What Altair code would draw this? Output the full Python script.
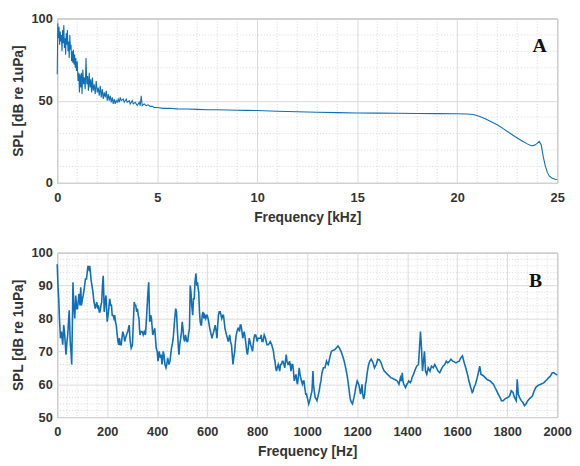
import altair as alt
import pandas as pd

# ---------------- Panel A data (kHz, dB) ----------------
a_freq = [0.00, 0.03, 0.06, 0.09, 0.12, 0.15, 0.18, 0.21, 0.24, 0.27, 0.30, 0.33, 0.36, 0.39, 0.42, 0.45,
          0.48, 0.51, 0.54, 0.57, 0.60, 0.63, 0.66, 0.69, 0.72, 0.75, 0.78, 0.81, 0.84, 0.87, 0.90, 0.93,
          0.96, 1.00, 1.04, 1.08, 1.11, 1.14, 1.18, 1.21, 1.24, 1.28, 1.32, 1.36, 1.40, 1.44, 1.48, 1.52,
          1.56, 1.60, 1.64, 1.68, 1.72, 1.76, 1.80, 1.85, 1.90, 1.95, 2.00, 2.05, 2.10, 2.15, 2.20, 2.25,
          2.30, 2.35, 2.40, 2.45, 2.50, 2.55, 2.60, 2.65, 2.70, 2.75, 2.80, 2.85, 2.90, 2.95, 3.00, 3.05,
          3.10, 3.15, 3.20, 3.30, 3.35, 3.45, 3.50, 3.60, 3.65, 3.75, 3.80, 3.90, 4.00, 4.10, 4.15, 4.20,
          4.25, 4.35, 4.45, 4.55, 4.65, 4.75, 4.85, 5.00, 5.3, 5.6, 6.0, 6.5, 7.0, 7.5, 8.0, 8.5, 9.0,
          9.5, 10.0, 11.0, 12.0, 13.0, 14.0, 15.0, 16.0, 17.0, 18.0, 19.0, 20.0, 20.5, 20.8, 21.1, 21.4,
          21.7, 22.0, 22.3, 22.6, 22.9, 23.2, 23.5, 23.7, 23.85, 24.0, 24.1, 24.2, 24.3, 24.4, 24.5, 24.6,
          24.75, 24.9, 25.0]
a_spl = [66, 97, 88, 95, 84, 92, 86, 90, 80, 93, 85, 96, 82, 88, 78, 91,
         84, 93, 80, 86, 76, 90, 81, 84, 74, 80, 73, 81, 72, 78, 70, 76,
         68, 74, 62, 67, 55, 66, 58, 67, 54, 69, 60, 64, 57, 76, 60, 65,
         56, 67, 58, 63, 55, 64, 56, 60, 54, 62, 55, 58, 53, 59, 52, 57,
         51, 55, 52, 56, 50, 54, 50, 53, 49, 52, 48, 51, 48, 50, 49, 51,
         49, 52, 50, 51, 49, 51, 49, 50, 48, 50, 48, 49, 47, 49, 47, 53,
         47, 48, 47, 47.5, 46.5, 46.5, 45.8, 45.8, 45.3, 45.4, 45.0, 44.9, 44.7, 44.5, 44.5, 44.3, 44.2,
         44.1, 44.0, 43.6, 43.2, 42.9, 42.7, 42.5, 42.4, 42.3, 42.2, 42.1, 42.0, 41.9, 41.6, 40.5, 39.0,
         37.2, 35.3, 33.0, 30.5, 28.0, 25.8, 23.7, 22.6, 22.8, 24.0, 25.2, 23.0, 16.0, 10.5, 6.5, 4.2,
         2.8, 2.2, 2.0]

# ---------------- Panel B data (Hz, dB) ----------------
b_freq = [0, 3, 6, 9, 13, 17, 22, 26, 30, 35, 39, 42, 46, 48, 52, 55, 58, 61, 63, 66, 70, 74, 78, 81,
          85, 87, 91, 94, 97, 101, 104, 108, 113, 117, 120, 123, 127, 130, 133, 135, 139, 143, 147, 150,
          152, 155, 158, 162, 165, 168, 171, 175, 178, 181, 184, 186, 188, 191, 195, 198, 200, 205, 210,
          214, 217, 220, 223, 227, 230, 233, 236, 240, 243, 246, 249, 252, 256, 259, 262, 266, 270, 273,
          277, 282, 285, 288, 290, 292, 296, 301, 304, 308, 311, 314, 318, 321, 324, 327, 329, 331, 335,
          340, 344, 348, 353, 357, 360, 363, 366, 368, 370, 374, 377, 380, 382, 386, 390, 393, 396, 400,
          403, 406, 408, 412, 416, 419, 421, 424, 427, 431, 435, 438, 442, 447, 451, 454, 457, 460, 464,
          467, 470, 474, 477, 479, 481, 484, 487, 490, 494, 497, 500, 503, 506, 510, 513, 516, 519, 522,
          525, 529, 532, 535, 538, 542, 545, 548, 551, 555, 558, 561, 564, 566, 569, 572, 575, 577, 580,
          583, 587, 590, 594, 597, 600, 603, 606, 610, 613, 616, 619, 622, 626, 629, 632, 636, 639, 642,
          645, 648, 652, 655, 658, 662, 665, 668, 671, 674, 677, 681, 684, 687, 690, 693, 697, 700, 703,
          706, 710, 713, 716, 719, 723, 726, 729, 732, 735, 739, 742, 745, 748, 752, 755, 758, 761, 764,
          768, 771, 774, 778, 781, 784, 787, 790, 794, 797, 800, 803, 806, 810, 813, 816, 819, 823, 828,
          833, 839, 845, 852, 858, 865, 868, 871, 874, 877, 880, 884, 887, 890, 893, 897, 900, 903, 907,
          910, 913, 916, 919, 923, 926, 929, 932, 935, 939, 942, 945, 948, 951, 955, 958, 961, 964, 968,
          971, 974, 977, 981, 984, 987, 990, 994, 997, 1000, 1003, 1006, 1010, 1013, 1016, 1019, 1021,
          1023, 1025, 1028, 1030, 1032, 1036, 1039, 1042, 1045, 1048, 1052, 1055, 1058, 1061, 1065, 1068,
          1071, 1074, 1077, 1080, 1084, 1087, 1090, 1093, 1097, 1103, 1110, 1116, 1123, 1129, 1135, 1142,
          1148, 1155, 1161, 1168, 1171, 1174, 1178, 1181, 1184, 1187, 1191, 1194, 1197, 1200, 1203, 1206,
          1210, 1213, 1216, 1219, 1222, 1226, 1230, 1233, 1236, 1239, 1243, 1246, 1250, 1256, 1263, 1269,
          1276, 1282, 1289, 1295, 1302, 1308, 1315, 1321, 1328, 1334, 1341, 1347, 1354, 1360, 1367, 1373,
          1377, 1380, 1383, 1386, 1390, 1393, 1396, 1399, 1403, 1406, 1412, 1416, 1419, 1425, 1432, 1438,
          1445, 1449, 1453, 1457, 1461, 1465, 1469, 1473, 1478, 1484, 1491, 1497, 1504, 1510, 1517, 1523,
          1530, 1536, 1543, 1550, 1556, 1562, 1569, 1575, 1582, 1588, 1595, 1601, 1608, 1614, 1621, 1628,
          1634, 1641, 1647, 1654, 1660, 1663, 1667, 1673, 1680, 1686, 1690, 1695, 1700, 1706, 1712, 1719,
          1725, 1732, 1738, 1745, 1751, 1758, 1764, 1771, 1777, 1784, 1790, 1797, 1803, 1810, 1816, 1823,
          1829, 1836, 1840, 1844, 1849, 1856, 1862, 1869, 1875, 1882, 1888, 1895, 1901, 1908, 1914, 1921,
          1927, 1934, 1940, 1947, 1953, 1960, 1966, 1973, 1980, 1986, 1991, 1996, 2000]
b_spl = [96.5, 90, 86, 80, 74, 76, 72, 78, 75, 69, 73, 75, 80, 82.5, 73, 70, 66, 80, 91, 84, 80, 87, 83, 83,
         86, 87.5, 84, 89.5, 84, 86, 87, 89, 92, 92, 94, 96, 95, 96, 94, 92, 90, 88, 85, 84,
         83, 84, 85, 83, 84, 82, 82, 84, 85, 90, 93, 88, 82, 85, 87, 82, 79, 82, 86,
         84, 84, 81, 81, 80, 81, 79, 78, 75, 73, 72, 74, 72, 72, 74, 76, 75, 73, 74,
         75, 76, 77, 78, 75, 73, 71, 72, 78, 85, 84, 84, 82, 83, 81, 80, 77, 75, 76,
         76, 75, 76, 75, 80, 84, 88, 91, 85, 79, 81, 80, 77, 75, 76, 77, 74, 71, 70,
         67, 69, 70, 68, 69, 66, 67, 70, 69, 66, 65, 66, 68, 66, 67, 69, 71, 72, 74,
         77, 80, 83, 82, 79, 76, 72, 69, 72, 74, 76, 79, 77, 74, 73, 75, 74, 73, 73,
         75, 77, 90, 88, 84, 81, 86, 86, 91, 93.7, 90, 91, 89, 88, 82, 79, 78, 78, 81,
         82, 80, 81, 80, 81, 81, 80, 79, 77, 76, 75, 74, 75, 76, 77, 78, 76, 74, 78,
         81, 82, 82, 81, 80, 81, 81, 79, 77, 76, 75, 74, 73, 74, 75, 73, 72, 69, 66,
         68, 70, 73, 75, 76, 77, 77, 76, 78, 78, 76, 74, 75, 76, 74, 72, 70, 69, 71,
         74, 73, 72, 71, 70, 72, 74, 75, 75, 74, 73, 74, 74, 74, 74, 75, 73, 73, 75,
         74, 72, 72, 73, 72, 70, 68, 67, 65, 64, 65, 66, 65, 64, 66, 66, 67, 67, 66,
         65, 67, 69, 67, 66, 66, 67, 66, 64, 66, 66, 64, 61, 62, 63, 61, 60, 62, 65,
         63, 62, 61, 60, 61, 61, 59, 57, 57, 56, 55, 54, 55, 56, 57, 58, 61,
         64, 60, 58, 57, 56, 55.5, 55, 56, 57, 58, 60, 61, 63, 64, 65, 65,
         65, 66, 67, 66.5, 66, 67, 68, 69, 70, 70.3, 70.5, 71, 71.6, 71, 70, 68.5,
         67, 64.5, 62, 58, 56, 55, 54.3, 54, 55, 56, 57.5, 59, 60, 61, 60.5, 60,
         58.5, 57, 58, 60, 57, 55.5, 57, 60, 61, 63, 65, 66, 67, 67.6, 66.6, 65,
         66, 67.6, 67.4, 66.6, 65, 64, 63.5, 63, 62.5, 62, 61.8, 61.5, 61.3, 61, 60, 62,
         61, 63.5, 61, 60, 59.5, 59, 59.5, 60, 60.5, 61, 60.5, 61, 62, 63, 64.5, 65.5,
         66, 71, 76, 71, 64, 67, 70, 64, 63, 65, 64, 65.5, 65, 66, 65, 64,
         63.5, 64.5, 65.5, 66, 67, 66.5, 67, 67.6, 67, 66.8, 66.5, 66.8, 67, 68, 68.6, 66.5,
         65, 63, 61, 59, 57.5, 57.8, 59, 60, 62, 64, 65.5, 63, 62.8, 62.5, 62, 61.5,
         61.2, 61, 60.5, 60, 59, 58, 57, 56, 55, 55, 55.5, 55.8, 56, 56.5, 58, 57.5,
         56, 55, 61.5, 57, 56, 55, 54.5, 53.5, 54, 55, 55.5, 56, 56.5, 58, 59, 59.5,
         59.8, 60, 60.2, 60.5, 61, 61.5, 62, 62.5, 63.5, 63.5, 63.2, 63, 62.8]

# ---------------- Axis ticks and grid values ----------------
a_xticks = [0, 5, 10, 15, 20, 25]
a_yticks = [0, 50, 100]
a_xminor = [v for v in range(0, 26) if v % 5 != 0]
a_yminor = [10, 20, 30, 40, 60, 70, 80, 90]

b_xticks = list(range(0, 2001, 200))
b_yticks = [50, 60, 70, 80, 90, 100]
b_xminor = [v for v in range(0, 2001, 40) if v % 200 != 0]
b_yminor = [v for v in range(50, 101, 2) if v % 10 != 0]

LINE = "#0f6fb8"
W, H = 508, 167


def panel(freq, spl, xdom, ydom, xticks, yticks, xminor, yminor, xtitle, letter, lx, ly, sw):
    df = pd.DataFrame({"f": freq, "s": spl})
    xs = alt.Scale(domain=xdom, nice=False, zero=False)
    ys = alt.Scale(domain=ydom, nice=False, zero=False)
    xax = alt.Axis(values=xticks, grid=True, format="d", title=xtitle, labelFlush=False,
                   labelPadding=9)
    yax = alt.Axis(values=yticks, grid=True, format="d", title="SPL [dB re 1uPa]", labelFlush=False,
                   labelPadding=5)
    minor_style = dict(color="#cfcfcf", strokeDash=[1, 2], strokeWidth=0.8)
    mx = alt.Chart(pd.DataFrame({"v": xminor})).mark_rule(**minor_style).encode(
        x=alt.X("v:Q", scale=xs, axis=xax))
    my = alt.Chart(pd.DataFrame({"v": yminor})).mark_rule(**minor_style).encode(
        y=alt.Y("v:Q", scale=ys, axis=yax))
    line = alt.Chart(df).mark_line(color=LINE, strokeWidth=sw).encode(
        x=alt.X("f:Q", scale=xs, axis=xax),
        y=alt.Y("s:Q", scale=ys, axis=yax),
    )
    txt = alt.Chart(pd.DataFrame({"t": [letter]})).mark_text(
        font="Liberation Serif", fontWeight="bold", fontSize=20, align="center",
        baseline="alphabetic", color="#111").encode(
        x=alt.value(lx), y=alt.value(ly), text="t:N")
    return alt.layer(mx, my, line, txt).properties(width=W, height=H)


pa = panel(a_freq, a_spl, [0, 25], [0, 100], a_xticks, a_yticks, a_xminor, a_yminor,
           "Frequency [kHz]", "A", W - 18, 34, 1.1)
pb = panel(b_freq, b_spl, [0, 2000], [50, 100], b_xticks, b_yticks, b_xminor, b_yminor,
           "Frequency [Hz]", "B", W - 22, 35, 1.6)

chart = alt.vconcat(pa, pb, spacing=21).properties(
    padding={"left": 2, "top": 0, "right": 0, "bottom": 0}
).configure_view(stroke="#8f8f8f", strokeWidth=1).configure_axis(
    labelFont="Liberation Sans", labelFontWeight="bold", labelFontSize=13, labelColor="#333",
    titleFont="Liberation Sans", titleFontWeight="bold", titleFontSize=14, titleColor="#333",
    gridColor="#dadada", gridWidth=1, domain=False, ticks=False, titlePadding=6,
)

chart.save("out.html", embed_options={"renderer": "svg", "actions": False})
